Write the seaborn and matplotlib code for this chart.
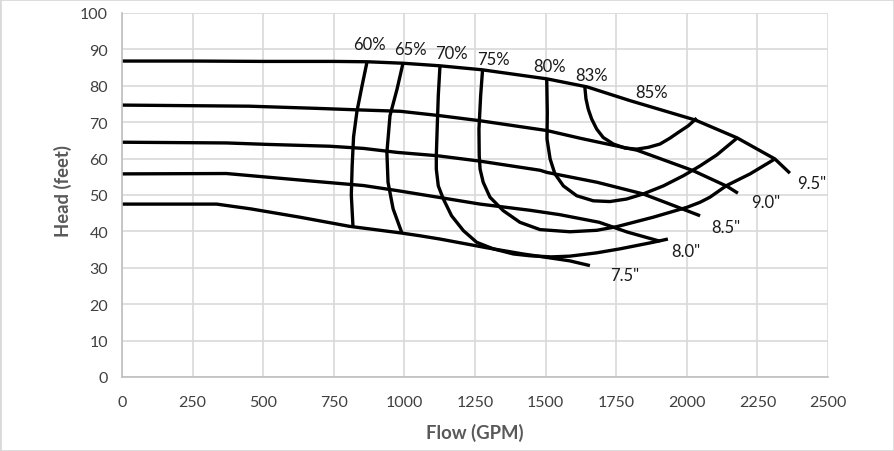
import seaborn as sns
import matplotlib.pyplot as plt
import pandas as pd
from matplotlib.patches import Rectangle

# Impeller diameter curves (flow GPM, head ft)
dia_names = ['9.5"', '9.0"', '8.5"', '8.0"', '7.5"']
flow_95 = [0, 250, 500, 750, 870, 995, 1125, 1275, 1505, 1647, 1800, 2030, 2178, 2312, 2365]
head_95 = [86.8, 86.8, 86.7, 86.7, 86.6, 86.2, 85.5, 84.4, 81.9, 79.7, 75.9, 70.6, 65.7, 59.9, 56.0]
flow_90 = [0, 450, 690, 830, 985, 1125, 1268, 1505, 1622, 1682, 1824, 2022, 2142, 2181]
head_90 = [74.7, 74.4, 73.8, 73.4, 73.0, 71.8, 70.4, 67.7, 65.6, 64.6, 62.3, 56.7, 52.4, 50.5]
flow_85 = [0, 370, 515, 735, 855, 975, 1115, 1268, 1480, 1505, 1682, 1845, 1940, 2047]
head_85 = [64.5, 64.3, 63.9, 63.4, 62.8, 61.7, 60.8, 59.3, 56.8, 56.2, 53.5, 50.3, 47.5, 44.3]
flow_80 = [0, 370, 515, 690, 855, 975, 1126, 1268, 1445, 1550, 1690, 1790, 1905]
head_80 = [55.8, 55.9, 54.9, 53.7, 52.6, 51.2, 49.3, 47.5, 45.8, 44.6, 42.5, 39.8, 37.3]
flow_75 = [0, 335, 455, 630, 805, 985, 1055, 1126, 1292, 1420, 1526, 1586, 1657]
head_75 = [47.5, 47.5, 46.2, 43.9, 41.4, 39.6, 38.8, 37.9, 35.5, 33.8, 32.6, 31.9, 30.6]

# Efficiency curves
eff_names = ['60%', '65%', '70%', '75%', '80%', '83%', '85%']
flow_e60 = [868, 850, 832, 820, 815, 812, 818]
head_e60 = [86.7, 80, 73, 66, 58, 50, 41.2]
flow_e65 = [995, 974, 949, 938, 942, 960, 991]
head_e65 = [86.2, 79.1, 71.8, 61.7, 53.5, 46.2, 39.6]
flow_e70 = [1126, 1120, 1116, 1113, 1113, 1120, 1138, 1167, 1209, 1256, 1315, 1386, 1445, 1520,
            1586, 1680, 1763, 1880, 1933]
head_e70 = [85.5, 77.3, 68.1, 60.8, 57.1, 52.5, 48.9, 44.3, 40.2, 37.0, 35.2, 33.8, 33.3, 33.0,
            33.2, 34.1, 35.2, 37.0, 37.9]
flow_e75 = [1277, 1270, 1264, 1265, 1268, 1279, 1303, 1350, 1409, 1480, 1586, 1681, 1752, 1881,
            2000, 2047, 2082, 2141, 2224, 2312]
head_e75 = [84.6, 77.3, 68.1, 60.8, 57.1, 53.5, 49.4, 45.7, 42.5, 40.5, 39.9, 40.3, 41.3, 43.9,
            46.6, 48.0, 49.4, 52.6, 55.8, 59.9]
flow_e80 = [1504, 1506, 1505, 1516, 1533, 1563, 1610, 1669, 1728, 1787, 1846, 1917, 1988, 2047,
            2106, 2176]
head_e80 = [81.9, 72.7, 65.4, 59.9, 55.8, 52.5, 49.8, 48.4, 48.2, 48.9, 50.3, 52.5, 55.3, 58.0,
            61.0, 65.5]
flow_e83 = [1639, 1643, 1651, 1663, 1681, 1704, 1740, 1781, 1823, 1864, 1905, 1940, 1970, 2005, 2035]
head_e83 = [79.6, 76.4, 73.6, 70.9, 68.1, 65.8, 64.0, 62.9, 62.6, 63.1, 64.0, 65.6, 67.2, 69.0, 71.1]

# label anchor points (flow, head)
eff_lbl_flow = [876, 1022, 1167, 1317, 1514, 1664, 1875]
eff_lbl_head = [91.6, 90.2, 89.1, 87.4, 85.4, 83.1, 78.3]
dia_lbl_flow = [2443, 2280, 2137, 1995, 1779]
dia_lbl_head = [53.2, 48.2, 41.3, 34.5, 27.9]

curves = [
    ('d95', flow_95, head_95), ('d90', flow_90, head_90), ('d85', flow_85, head_85),
    ('d80', flow_80, head_80), ('d75', flow_75, head_75),
    ('e60', flow_e60, head_e60), ('e65', flow_e65, head_e65), ('e70', flow_e70, head_e70),
    ('e75', flow_e75, head_e75), ('e80', flow_e80, head_e80), ('e83', flow_e83, head_e83),
]
rows = []
for name, fl, hd in curves:
    for f, h in zip(fl, hd):
        rows.append({'curve': name, 'flow': f, 'head': h})
df = pd.DataFrame(rows)

sns.set_theme(style="white")
plt.rcParams['font.family'] = ['Lato', 'DejaVu Sans']

fig = plt.figure(figsize=(8.94, 4.52), dpi=100)
ax = fig.add_axes([122/894, 1-378/452, 706/894, 364/452])
sns.lineplot(data=df, x='flow', y='head', units='curve', estimator=None, sort=False,
             color='black', lw=2.4, ax=ax, legend=False,
             solid_capstyle='butt', solid_joinstyle='round')

ax.set_xlim(0, 2500)
ax.set_ylim(0, 100)
ax.set_xticks(range(0, 2501, 250))
ax.set_yticks(range(0, 101, 10))
ax.grid(True, color='#d9d9d9', lw=1.2)
ax.set_axisbelow(True)
for s in ['top', 'right']:
    ax.spines[s].set_visible(False)
for s in ['left', 'bottom']:
    ax.spines[s].set_color('#bfbfbf')
    ax.spines[s].set_linewidth(1.2)
ax.tick_params(axis='both', length=0, labelsize=11.5, colors='#404040')
ax.tick_params(axis='x', pad=13)
ax.tick_params(axis='y', pad=10)

ax.set_xlabel('Flow (GPM)', fontsize=13.3, fontweight='bold', color='#595959')
ax.xaxis.label.set_va('center')
ax.xaxis.set_label_coords(0.5, (378-433)/364)
ax.set_ylabel('Head (feet)', fontsize=13.3, fontweight='bold', color='#595959', labelpad=6)
ax.yaxis.label.set_y((378-190.7)/364)

for t, x, y in zip(eff_names, eff_lbl_flow, eff_lbl_head):
    ax.text(x, y, t, ha='center', va='center', fontsize=12, color='#1a1a1a')
for t, x, y in zip(dia_names, dia_lbl_flow, dia_lbl_head):
    ax.text(x, y, t, ha='center', va='center', fontsize=12, color='#1a1a1a')

fig.patches.append(Rectangle((0, 0), 1, 1, transform=fig.transFigure, fill=False,
                             edgecolor='#d9d9d9', lw=2))

fig.savefig('out.png', dpi=100)
